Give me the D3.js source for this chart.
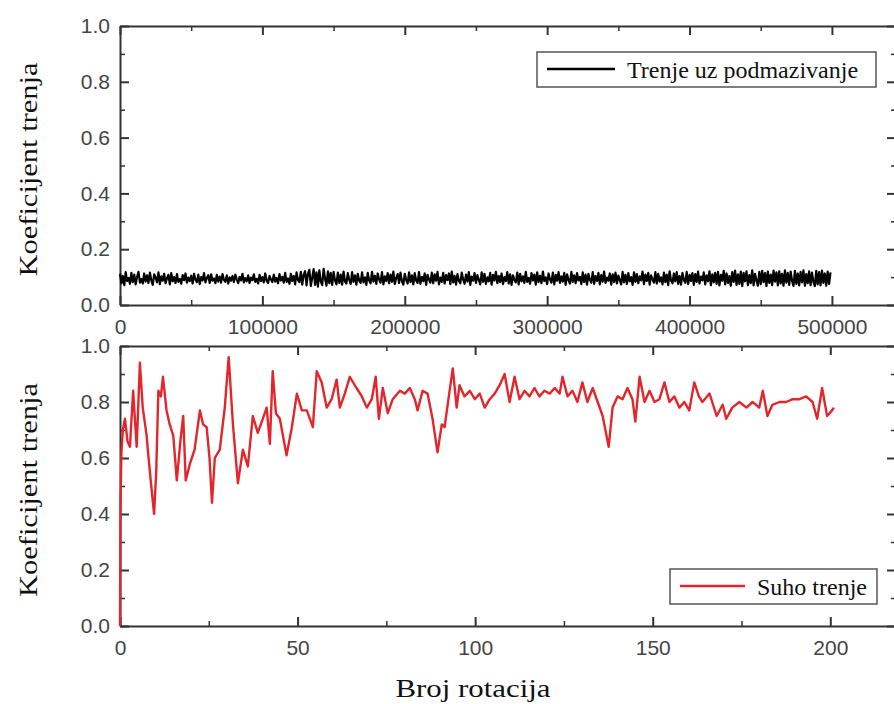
<!DOCTYPE html>
<html>
<head>
<meta charset="utf-8">
<script src="https://cdn.jsdelivr.net/npm/d3@7"></script>
<style>
  body { margin: 0; background: #fff; }
  .tick text { font-family: Arial, "Liberation Sans", sans-serif; font-size: 21px; fill: #444; }
  .serif { font-family: "Times New Roman", "Liberation Serif", serif; fill: #111; }
</style>
</head>
<body>
<div id="chart"></div>
<script>
// top panel: lubricated friction, sampled every 1000 rotations
const lubStep = 1000
const lubCof = [
  0.112,0.078,0.104,0.071,0.118,0.086,0.097,0.076,0.115,0.082,
  0.109,0.074,0.101,0.119,0.08,0.093,0.077,0.113,0.084,0.106,
  0.079,0.116,0.088,0.072,0.11,0.099,0.081,0.117,0.075,0.103,
  0.087,0.112,0.078,0.096,0.108,0.074,0.114,0.085,0.1,0.079,
  0.111,0.083,0.094,0.076,0.107,0.089,0.113,0.08,0.098,0.086,
  0.105,0.077,0.112,0.091,0.082,0.109,0.075,0.1,0.088,0.114,
  0.081,0.097,0.107,0.079,0.11,0.087,0.095,0.078,0.108,0.084,
  0.102,0.08,0.111,0.09,0.083,0.106,0.077,0.099,0.087,0.104,
  0.082,0.109,0.092,0.078,0.101,0.088,0.112,0.081,0.096,0.085,
  0.106,0.079,0.098,0.089,0.11,0.083,0.094,0.077,0.108,0.086,
  0.1,0.081,0.113,0.087,0.079,0.104,0.092,0.082,0.109,0.084,
  0.097,0.078,0.111,0.088,0.101,0.08,0.115,0.083,0.095,0.076,
  0.112,0.086,0.104,0.074,0.117,0.09,0.082,0.119,0.073,0.108,
  0.121,0.07,0.112,0.126,0.068,0.098,0.129,0.072,0.117,0.066,
  0.124,0.085,0.071,0.13,0.094,0.069,0.121,0.078,0.115,0.072,
  0.119,0.088,0.074,0.116,0.079,0.109,0.073,0.12,0.084,0.077,
  0.114,0.09,0.075,0.118,0.083,0.106,0.073,0.112,0.087,0.079,
  0.117,0.081,0.099,0.072,0.115,0.088,0.078,0.119,0.084,0.105,
  0.076,0.113,0.091,0.08,0.118,0.074,0.103,0.086,0.114,0.078,
  0.109,0.083,0.12,0.075,0.097,0.111,0.079,0.116,0.085,0.073,
  0.112,0.09,0.077,0.117,0.082,0.106,0.074,0.114,0.088,0.079,
  0.118,0.076,0.101,0.085,0.113,0.072,0.108,0.091,0.08,0.116,
  0.078,0.11,0.087,0.119,0.074,0.098,0.083,0.115,0.077,0.107,
  0.089,0.113,0.075,0.12,0.081,0.104,0.073,0.111,0.086,0.078,
  0.116,0.092,0.076,0.109,0.084,0.118,0.072,0.102,0.087,0.114,
  0.079,0.107,0.09,0.074,0.117,0.083,0.112,0.076,0.099,0.085,
  0.115,0.073,0.108,0.088,0.119,0.078,0.104,0.082,0.113,0.075,
  0.1,0.086,0.118,0.077,0.11,0.072,0.106,0.09,0.081,0.116,
  0.074,0.112,0.085,0.103,0.079,0.119,0.083,0.097,0.076,0.114,
  0.088,0.109,0.073,0.117,0.082,0.105,0.078,0.12,0.086,0.099,
  0.075,0.113,0.091,0.08,0.116,0.074,0.108,0.087,0.118,0.079,
  0.103,0.084,0.115,0.072,0.11,0.089,0.077,0.119,0.083,0.106,
  0.078,0.114,0.088,0.101,0.075,0.117,0.082,0.109,0.073,0.112,
  0.09,0.08,0.118,0.076,0.104,0.086,0.115,0.074,0.107,0.084,
  0.12,0.079,0.098,0.087,0.113,0.073,0.11,0.082,0.116,0.077,
  0.105,0.089,0.074,0.119,0.081,0.108,0.076,0.114,0.085,0.1,
  0.072,0.117,0.083,0.111,0.078,0.103,0.088,0.12,0.075,0.109,
  0.086,0.115,0.073,0.106,0.091,0.08,0.118,0.077,0.112,0.084,
  0.099,0.074,0.116,0.082,0.109,0.071,0.121,0.087,0.078,0.113,
  0.085,0.118,0.076,0.104,0.073,0.115,0.09,0.08,0.119,0.075,
  0.108,0.086,0.114,0.072,0.111,0.083,0.12,0.077,0.102,0.088,
  0.117,0.074,0.106,0.085,0.121,0.071,0.11,0.081,0.115,0.076,
  0.119,0.07,0.108,0.087,0.122,0.074,0.113,0.079,0.104,0.069,
  0.118,0.083,0.123,0.072,0.11,0.076,0.12,0.068,0.115,0.085,
  0.121,0.071,0.107,0.078,0.124,0.07,0.112,0.088,0.069,0.119,
  0.075,0.122,0.082,0.114,0.068,0.12,0.079,0.109,0.071,0.123,
  0.084,0.117,0.07,0.121,0.077,0.112,0.069,0.124,0.08,0.115,
  0.072,0.12,0.086,0.068,0.122,0.076,0.113,0.07,0.119,0.081,
  0.124,0.069,0.111,0.078,0.121,0.071,0.116,0.083,0.068,0.122,
  0.074,0.118,0.07,0.123,0.079,0.113,0.069,0.12,0.076,0.117
]

// bottom panel: dry friction
const dryRot = [0,0.15,0.4,0.8,1.4,2.1,2.8,3.7,4.7,5.6,6.4,7.5,7.9,8.8,9.6,10.2,10.8,11.5,12.1,13.1,
  14,15,16,17,17.8,18.5,19.7,21,22.5,23.4,24.4,25.2,25.9,26.7,28.1,29.5,30.6,31.8,33.2,34.6,
  36,37.4,38.8,40.2,41.3,42.2,43,43.9,45,46.9,48.4,49.8,51.2,52.6,54.3,55.4,56.8,58.2,59.6,61,
  61.9,63.3,64.7,66.6,68.1,69.5,70.9,72,72.9,74,75.4,76.8,78.8,80.2,81.6,83,83.8,85.2,86.6,88,
  89.4,90.6,91.4,92.8,93.7,94.8,95.6,97,98.5,99.9,101.3,102.7,104.1,105.5,106.9,108.3,109.7,111.1,112.5,113.9,
  115.3,116.7,118.1,119.5,121,122.4,123.8,124.6,126,127.4,128.8,130.2,131.6,133.1,134.5,135.9,137.6,138.7,140.1,141.5,
  142.9,144.3,145.1,146.3,147.7,149.1,150.5,151.9,153.3,154.7,156.1,157.5,158.9,160.3,161.7,163,164,166,168,169.7,
  170.7,172.4,174.4,176.4,178.1,180,181,182.3,183.7,185.7,187.6,189.4,191.3,193.2,195,196.3,197.7,199.1,200.5,201]
const dryCof = [0,0.45,0.62,0.7,0.74,0.66,0.64,0.84,0.64,0.94,0.78,0.68,0.62,0.5,0.4,0.55,0.84,0.82,0.89,0.77,
  0.72,0.68,0.52,0.66,0.75,0.52,0.58,0.63,0.77,0.72,0.71,0.6,0.44,0.6,0.63,0.78,0.96,0.72,0.51,0.63,
  0.57,0.75,0.69,0.74,0.78,0.65,0.91,0.76,0.74,0.61,0.71,0.83,0.77,0.77,0.71,0.91,0.87,0.78,0.81,0.88,
  0.78,0.83,0.89,0.85,0.82,0.78,0.81,0.89,0.74,0.85,0.76,0.81,0.84,0.83,0.85,0.81,0.77,0.84,0.83,0.74,
  0.62,0.72,0.71,0.84,0.92,0.78,0.86,0.82,0.84,0.81,0.83,0.78,0.81,0.83,0.86,0.9,0.8,0.89,0.81,0.84,
  0.82,0.85,0.82,0.84,0.83,0.85,0.83,0.89,0.82,0.84,0.8,0.87,0.8,0.85,0.8,0.75,0.64,0.78,0.82,0.81,
  0.85,0.81,0.73,0.89,0.8,0.84,0.8,0.81,0.87,0.8,0.82,0.78,0.8,0.77,0.87,0.82,0.8,0.83,0.75,0.79,
  0.74,0.78,0.8,0.78,0.8,0.78,0.84,0.75,0.79,0.8,0.8,0.81,0.81,0.82,0.8,0.74,0.85,0.75,0.77,0.78]

const topTicks = [0, 100000, 200000, 300000, 400000, 500000],
      bottomTicks = [0, 50, 100, 150, 200],
      cofTicks = [0, 0.2, 0.4, 0.6, 0.8, 1.0]

const width = 894, height = 704
const left = 120, right = 896

const svg = d3.select('#chart')
              .append('svg')
              .attr('width', width)
              .attr('height', height)

function panel(opts) {
  const x = d3.scaleLinear().domain(opts.xDomain).range([left, right]),
        y = d3.scaleLinear().domain([0, 1]).range([opts.bottom, opts.top])
  const g = svg.append('g')

  // major + minor ticks on all four sides, pointing inward
  const sides = [
    [d3.axisBottom(x), 'translate(0,' + opts.bottom + ')', opts.xMajor, opts.xMinor, true, 14],
    [d3.axisTop(x), 'translate(0,' + opts.top + ')', opts.xMajor, opts.xMinor, false, 0],
    [d3.axisLeft(y), 'translate(' + left + ',0)', cofTicks, d3.range(0.1, 1, 0.2), true, 10],
    [d3.axisRight(y), 'translate(' + right + ',0)', cofTicks, d3.range(0.1, 1, 0.2), false, 0]
  ]
  sides.forEach(function(s, i) {
    const major = s[0].tickValues(s[2]).tickSizeInner(-9).tickSizeOuter(0).tickPadding(s[5])
    if (s[4]) {
      major.tickFormat(i === 0 ? d3.format('d') : d3.format('.1f'))
    } else {
      major.tickFormat('')
    }
    const ga = g.append('g').attr('transform', s[1]).call(major)
    ga.select('.domain').attr('stroke', '#333').attr('stroke-width', 2)
    ga.selectAll('.tick line').attr('stroke', '#333').attr('stroke-width', 2)
    const minor = g.append('g').attr('transform', s[1])
                   .call(s[0].tickValues(s[3]).tickSizeInner(-5).tickFormat(''))
    minor.select('.domain').remove()
    minor.selectAll('.tick line').attr('stroke', '#333').attr('stroke-width', 1.5)
  })

  g.append('path')
   .datum(opts.xs.map(function(d, i) { return [d, opts.ys[i]] }))
   .attr('fill', 'none')
   .attr('stroke', opts.color)
   .attr('stroke-width', opts.lw)
   .attr('stroke-linejoin', 'round')
   .attr('d', d3.line().x(function(d) { return x(d[0]) }).y(function(d) { return y(d[1]) }))

  g.append('text')
   .attr('class', 'serif')
   .attr('transform', 'translate(37,' + ((opts.top + opts.bottom) / 2 + 4) + ') rotate(-90)')
   .attr('text-anchor', 'middle')
   .attr('font-size', 25)
   .attr('textLength', 214)
   .attr('lengthAdjust', 'spacingAndGlyphs')
   .text('Koeficijent trenja')

  const lg = opts.legend
  g.append('rect')
   .attr('x', lg.x).attr('y', lg.y).attr('width', lg.w).attr('height', 35)
   .attr('fill', '#fff').attr('stroke', '#555').attr('stroke-width', 1.5)
  g.append('line')
   .attr('x1', lg.x + 10).attr('x2', lg.x + lg.line)
   .attr('y1', lg.y + 17).attr('y2', lg.y + 17)
   .attr('stroke', opts.color).attr('stroke-width', 2.5)
  g.append('text')
   .attr('class', 'serif')
   .attr('x', lg.x + lg.line + 12).attr('y', lg.y + 26)
   .attr('font-size', 24)
   .text(lg.label)
}

panel({
  xDomain: [0, 545000], top: 26, bottom: 305,
  xMajor: topTicks, xMinor: d3.range(50000, 550000, 100000),
  xs: lubCof.map(function(d, i) { return i * lubStep }), ys: lubCof,
  color: '#000', lw: 2.2,
  legend: { x: 537, y: 52, w: 339, line: 78, label: 'Trenje uz podmazivanje' }
})

panel({
  xDomain: [0, 218.5], top: 346, bottom: 626,
  xMajor: bottomTicks, xMinor: [25, 75, 125, 175],
  xs: dryRot, ys: dryCof,
  color: '#e3262b', lw: 2.4,
  legend: { x: 670, y: 569, w: 207, line: 75, label: 'Suho trenje' }
})

svg.append('text')
   .attr('class', 'serif')
   .attr('x', 473).attr('y', 697)
   .attr('text-anchor', 'middle')
   .attr('font-size', 25)
   .attr('textLength', 155)
   .attr('lengthAdjust', 'spacingAndGlyphs')
   .text('Broj rotacija')
</script>
</body>
</html>
